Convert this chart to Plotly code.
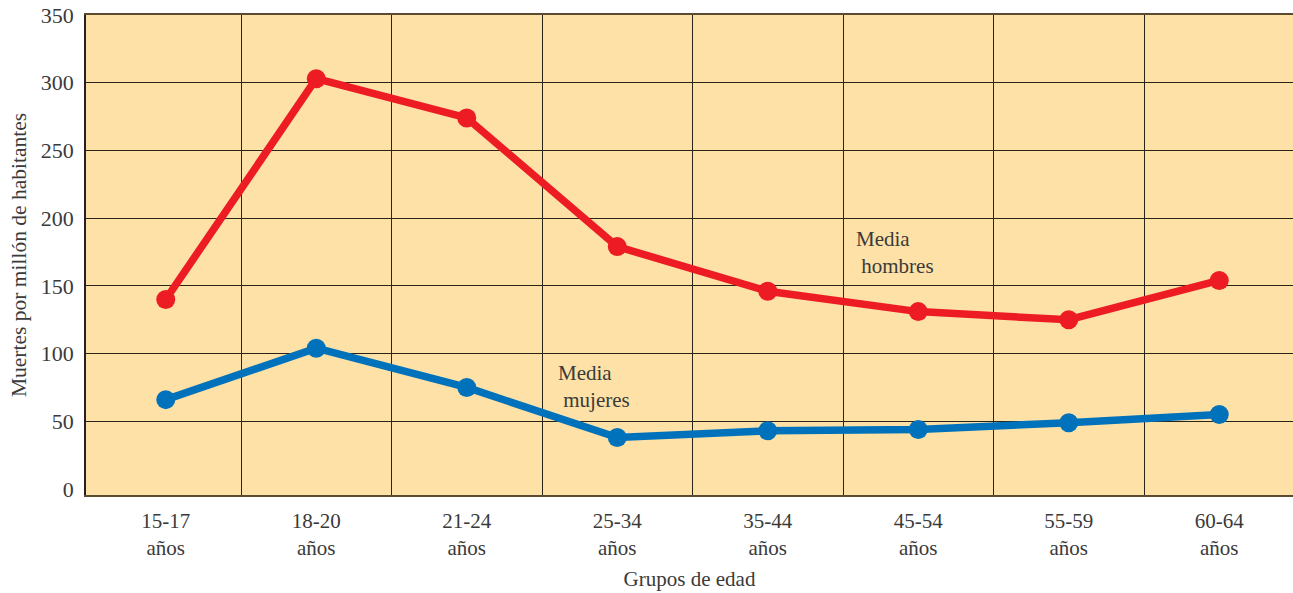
import plotly.graph_objects as go

grupos = ["15-17", "18-20", "21-24", "25-34", "35-44", "45-54", "55-59", "60-64"]
hombres = [140, 303, 274, 179, 146, 131, 125, 154]
mujeres = [66, 104, 75, 38, 43, 44, 49, 55]
y_ticks = [0, 50, 100, 150, 200, 250, 300, 350]

x_pos = list(range(len(grupos)))
tick_text = [f"{g}<br>años" for g in grupos]
separadores = [i + 0.5 for i in x_pos[:-1]]
lineas_y = y_ticks[1:-1]

FONT = "Liberation Serif"
TXT = "#3a3a3a"
GRID = "#2a2418"

fig = go.Figure()
fig.add_trace(go.Scatter(
    x=x_pos, y=hombres, mode="lines+markers",
    line=dict(color="#ED1C24", width=7.5),
    marker=dict(color="#ED1C24", size=19),
    showlegend=False, hoverinfo="skip",
))
fig.add_trace(go.Scatter(
    x=x_pos, y=mujeres, mode="lines+markers",
    line=dict(color="#0072BC", width=7.5),
    marker=dict(color="#0072BC", size=19),
    showlegend=False, hoverinfo="skip",
))

fig.add_annotation(x=4.57, y=175, text="Media<br>&nbsp;hombres", showarrow=False,
                   xanchor="left", yanchor="middle", align="left",
                   font=dict(family=FONT, size=21, color=TXT))
fig.add_annotation(x=2.59, y=76, text="Media<br>&nbsp;mujeres", showarrow=False,
                   xanchor="left", yanchor="middle", align="left",
                   font=dict(family=FONT, size=21, color=TXT))

fig.update_layout(
    width=1293, height=593,
    margin=dict(l=86, r=0, t=15, b=98),
    paper_bgcolor="white",
    plot_bgcolor="#FDE1A7",
    font=dict(family=FONT, size=21, color=TXT),
    xaxis=dict(
        range=[-0.53, 7.49],
        tickmode="array", tickvals=x_pos, ticktext=tick_text,
        showgrid=False, zeroline=False, ticks="",
        showline=True, linecolor="#5a4a30", linewidth=1.5, mirror=True,
        minor=dict(tickmode="array", tickvals=separadores, showgrid=True,
                   gridcolor=GRID, gridwidth=1, ticks=""),
        title=dict(text="Grupos de edad", font=dict(family=FONT, size=21, color=TXT), standoff=12),
        tickfont=dict(family=FONT, size=21, color=TXT),
        ticklabelstandoff=6,
    ),
    yaxis=dict(
        range=[-4.4, 350],
        tickmode="array", tickvals=y_ticks,
        showgrid=False, zeroline=False, ticks="",
        showline=True, linecolor="#222", linewidth=1.5, mirror=False,
        minor=dict(tickmode="array", tickvals=lineas_y, showgrid=True,
                   gridcolor=GRID, gridwidth=1, ticks=""),
        title=dict(text="Muertes por millón de habitantes",
                   font=dict(family=FONT, size=21.5, color=TXT), standoff=8),
        tickfont=dict(family=FONT, size=22, color=TXT),
        ticklabelstandoff=6,
    ),
)

fig.write_html("out.html")
